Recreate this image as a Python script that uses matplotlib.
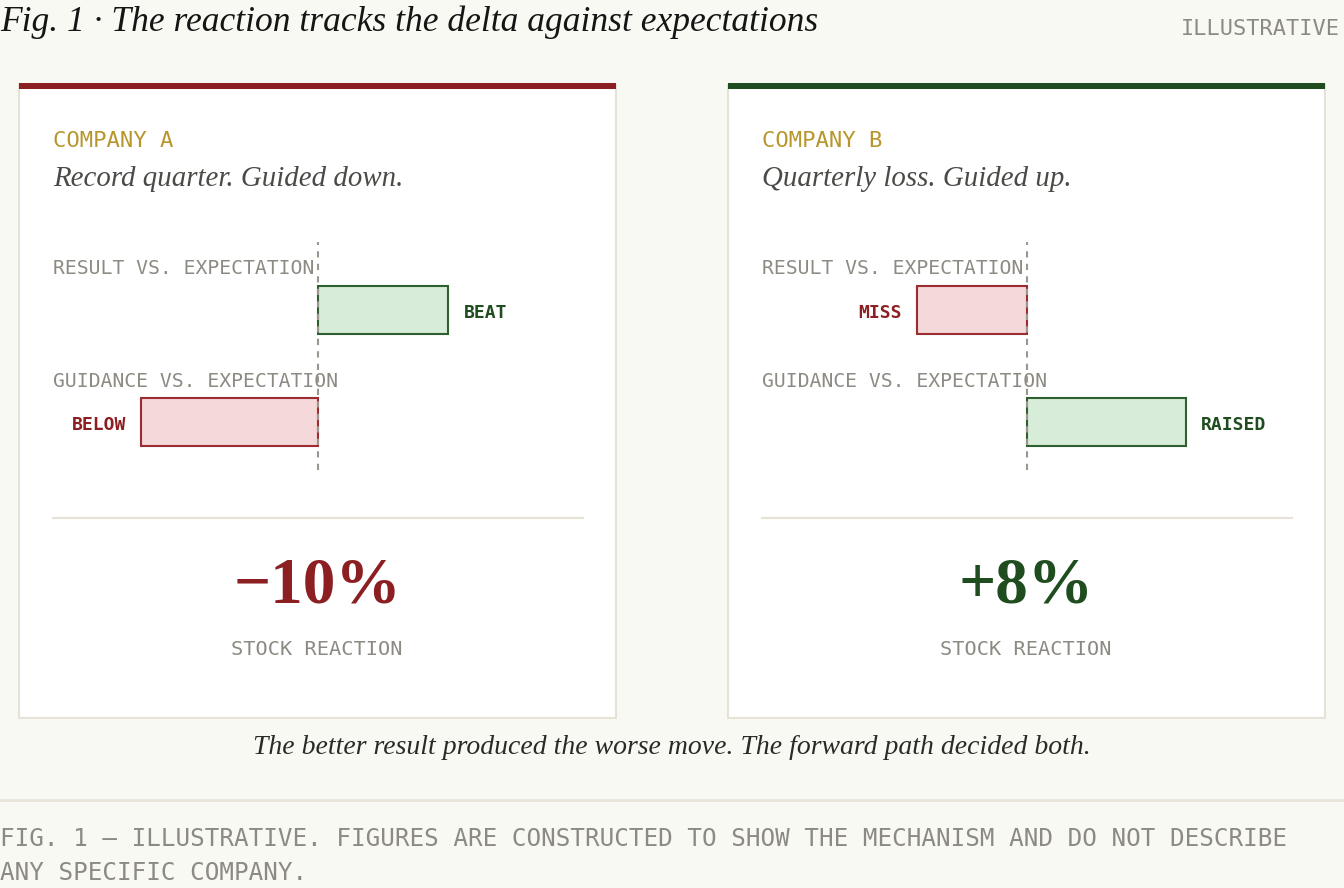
import matplotlib
matplotlib.use("Agg")
import matplotlib.pyplot as plt
from matplotlib.patches import Rectangle

# data
companies = ["COMPANY A", "COMPANY B"]
headlines = ["Record quarter. Guided down.", "Quarterly loss. Guided up."]
row_labels = ["RESULT VS. EXPECTATION", "GUIDANCE VS. EXPECTATION"]
result_vs_exp = [2.95, -2.5]     # arbitrary units, + beat / - miss
guidance_vs_exp = [-4.0, 3.6]    # + raised / - below
result_words = ["BEAT", "MISS"]
guidance_words = ["BELOW", "RAISED"]
reaction_pct = [-10, 8]

title = "Fig. 1 \u00b7 The reaction tracks the delta against expectations"
caption = "The better result produced the worse move. The forward path decided both."
footer = ["FIG. 1 \u2014 ILLUSTRATIVE. FIGURES ARE CONSTRUCTED TO SHOW THE MECHANISM AND DO NOT DESCRIBE",
          "ANY SPECIFIC COMPANY."]

# colours
BG = "#f9f9f4"
BORDER = "#e6e3d6"
RED = "#8b1f22"
GREEN = "#1f4d1f"
GOLD = "#b8962e"
GREY = "#8c8a82"
PINK_FILL = "#f5d8da"
PINK_EDGE = "#9b2d31"
GREEN_FILL = "#d8edd9"
GREEN_EDGE = "#2f5f2f"

SERIF = ["Liberation Serif", "DejaVu Serif"]
MONO = ["DejaVu Sans Mono"]

W, H = 1344, 888
fig = plt.figure(figsize=(W / 100, H / 100), dpi=100, facecolor=BG)

# layout axes in pixel coordinates
base = fig.add_axes([0, 0, 1, 1])
base.set_xlim(0, W)
base.set_ylim(H, 0)
base.axis("off")
base.set_facecolor(BG)

base.text(0, 22, title, family=SERIF, style="italic", fontsize=25.6, color="#151515",
          ha="left", va="center")
base.text(1340, 29, "ILLUSTRATIVE", family=MONO, fontsize=15.8, color=GREY,
          ha="right", va="center")

panel_left = [19, 728]
panel_w = 597
panel_top, panel_bot = 85, 718
accent = [RED, GREEN]

for i in range(2):
    x0 = panel_left[i]
    base.add_patch(Rectangle((x0, panel_top), panel_w, panel_bot - panel_top,
                             facecolor="white", edgecolor=BORDER, lw=1.5, zorder=1))
    base.add_patch(Rectangle((x0, panel_top - 2), panel_w, 6,
                             facecolor=accent[i], edgecolor="none", zorder=2))
    cx = x0 + 34
    base.text(cx, 141, companies[i], family=MONO, fontsize=16, color=GOLD,
              ha="left", va="center", zorder=3)
    base.text(cx, 179, headlines[i], family=SERIF, style="italic", fontsize=20.8,
              color="#4a4a46", ha="left", va="center", zorder=3)
    base.plot([cx, cx + 530], [518, 518], color=BORDER, lw=1.5, zorder=3)

    # bar axes for this panel
    ax = fig.add_axes([cx / W, 1 - 470 / H, 530 / W, 228 / H])
    ax.set_xlim(-6, 6)
    ax.set_ylim(228, 0)
    ax.axis("off")
    ax.patch.set_alpha(0)

    vals = [result_vs_exp[i], guidance_vs_exp[i]]
    words = [result_words[i], guidance_words[i]]
    ys = [68, 180]
    for v, wd, yc, lab, ly in zip(vals, words, ys, row_labels, [27, 139]):
        fill, edge = (GREEN_FILL, GREEN_EDGE) if v > 0 else (PINK_FILL, PINK_EDGE)
        ax.barh(yc, v, height=48, color=fill, edgecolor=edge, linewidth=1.5, zorder=2)
        ax.annotate(wd, (v, yc + 3), xytext=(11 if v > 0 else -11, 0),
                    textcoords="offset points", ha="left" if v > 0 else "right",
                    va="center", family=MONO, fontsize=13, fontweight="bold",
                    color=GREEN if v > 0 else RED)
        ax.text(0, ly, lab, transform=ax.get_yaxis_transform(), family=MONO,
                fontsize=14.2, color=GREY, ha="left", va="center", zorder=1)
    ax.axvline(0, color="#9a978e", lw=1.5, dashes=(3, 3), zorder=3)

    # stock reaction
    pct = reaction_pct[i]
    sign = "\u2212" if pct < 0 else "+"
    mid = cx + 264
    base.text(mid, 586, f"{sign}{abs(pct)}%", family=SERIF, fontweight="bold",
              fontsize=47, color=accent[i], ha="center", va="center", zorder=3)
    base.text(mid, 649, "STOCK REACTION", family=MONO, fontsize=14.6, color=GREY,
              ha="center", va="center", zorder=3)

base.text(672, 747, caption, family=SERIF, style="italic", fontsize=20,
          color="#2a2a28", ha="center", va="center")
base.plot([0, W], [800, 800], color="#e8e4d8", lw=2)
base.text(0, 839, footer[0], family=MONO, fontsize=17.5, color=GREY, ha="left", va="center")
base.text(0, 873, footer[1], family=MONO, fontsize=17.5, color=GREY, ha="left", va="center")

fig.savefig("out.png", dpi=100, facecolor=BG)
